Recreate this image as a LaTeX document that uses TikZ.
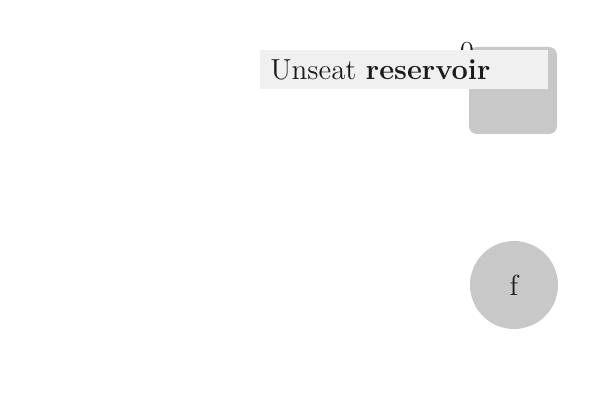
\documentclass[tikz,border=0pt]{standalone}
\usepackage{xcolor}
\definecolor{blockgrey}{HTML}{C8C8C8}
\definecolor{labelgrey}{HTML}{F0F0F0}
\definecolor{inkgrey}{HTML}{1A1A1A}
\tikzset{
    blockbox/.style={rectangle, rounded corners=4pt, fill=blockgrey, minimum width=44pt, minimum height=43.5pt, inner sep=0pt},
    labelbox/.style={rectangle, fill=labelgrey, minimum width=144pt, minimum height=19.5pt, inner sep=0pt, text=inkgrey, font=\fontsize{14.5}{17}\selectfont},
    endcircle/.style={circle, fill=blockgrey, minimum size=44pt, inner sep=0pt, text=inkgrey, font=\fontsize{14.5}{17}\selectfont}
}
\begin{document}
\begin{tikzpicture}[x=0.5pt, y=-0.5pt]
            \useasboundingbox (0, 0) rectangle (600, 400);
            \node [blockbox] (reservoir) at (513, 90.5) {};
            \node [text=inkgrey, font=\fontsize{14.5}{17}\selectfont, inner sep=0pt] (zero) at (467, 52) {0};
            \node [labelbox] (unseat) at (404, 69.5) {};
            \node [anchor=west, text=inkgrey, font=\fontsize{14.5}{17}\selectfont, inner sep=0pt] (unseattext) at (270, 69.5) {Unseat \textbf{reservoir}};
            \node [endcircle] (final) at (514, 285) {f};
        \end{tikzpicture}
\end{document}
